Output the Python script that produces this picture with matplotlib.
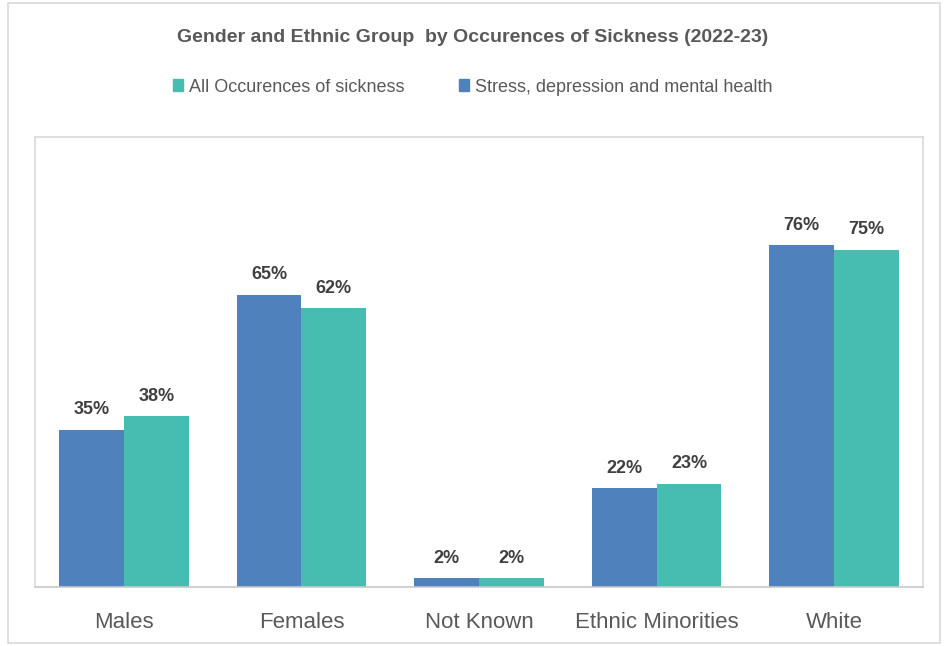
import numpy as np
import matplotlib
matplotlib.use('Agg')
import matplotlib.pyplot as plt
from matplotlib.patches import Rectangle, Patch

# Values
categories = ['Males', 'Females', 'Not Known', 'Ethnic Minorities', 'White']
stress = [0.35, 0.65, 0.02, 0.22, 0.76]
all_sick = [0.38, 0.62, 0.02, 0.23, 0.75]

blue = '#4F81BD'
teal = '#46BDB0'
grey = '#595959'

plt.rcParams['font.family'] = ['Liberation Sans', 'DejaVu Sans']

fig = plt.figure(figsize=(9.45, 6.46), dpi=100)
ax = fig.add_axes([35/945, 1-587/646, (923-35)/945, (587-137)/646])

# outer chart frame
fig.patches.append(Rectangle((8/945, 3/646), 932/945, 640/646, transform=fig.transFigure,
                             fill=False, edgecolor='#d9d9d9', linewidth=1.2))

x = np.arange(len(categories))
w = 0.365
b1 = ax.bar(x - w/2, stress, w, color=blue)
b2 = ax.bar(x + w/2, all_sick, w, color=teal)

for bars in (b1, b2):
    for r in bars:
        ax.text(r.get_x() + r.get_width()/2, r.get_height() + 0.025, '%d%%' % round(r.get_height()*100),
                ha='center', va='bottom', fontsize=13, fontweight='bold', color='#404040')

ax.set_xlim(-0.5, len(categories) - 0.5)
ax.set_ylim(0, 1.0)
ax.set_yticks([])
ax.set_xticks(x)
ax.set_xticklabels(categories, fontsize=16, color=grey)
ax.tick_params(axis='x', length=0, pad=18)
for s in ax.spines.values():
    s.set_color('#d9d9d9')
    s.set_linewidth(1.2)
ax.spines['bottom'].set_color('#c8c8c8')

fig.text(0.5, 1-38/646, 'Gender and Ethnic Group  by Occurences of Sickness (2022-23)',
         ha='center', va='center', fontsize=14, fontweight='bold', color=grey)

handles = [Patch(color=teal), Patch(color=blue)]
fig.legend(handles, ['All Occurences of sickness', 'Stress, depression and mental health'],
           loc='center', bbox_to_anchor=(0.5, 1-87/646), ncol=2, frameon=False,
           fontsize=13, labelcolor=grey, handlelength=0.6, handleheight=0.6,
           handletextpad=0.3, columnspacing=3.0)

fig.savefig('out.png', dpi=100)
